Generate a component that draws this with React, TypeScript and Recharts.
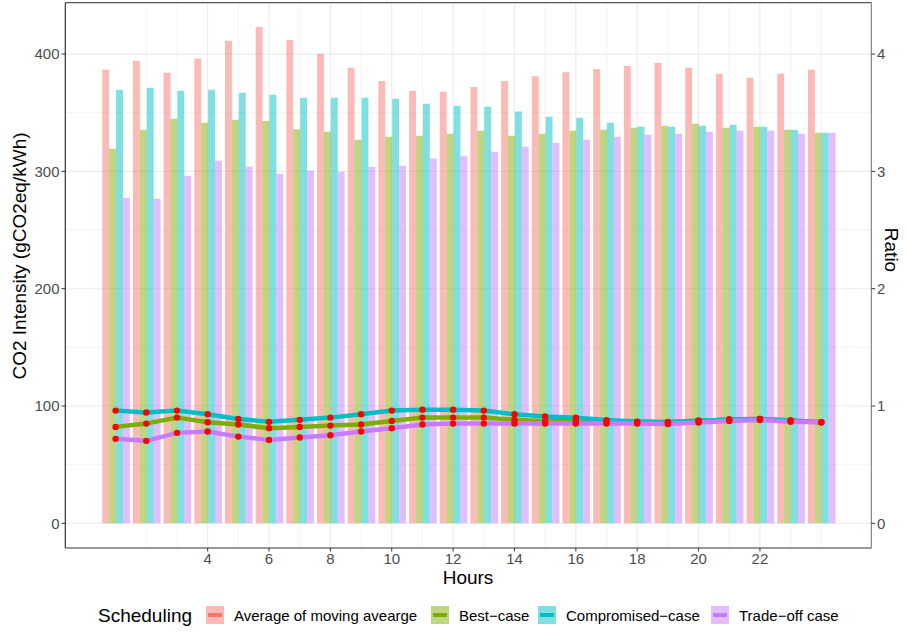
import React from 'react';
import {
  ComposedChart,
  Bar,
  Line,
  XAxis,
  YAxis,
  CartesianGrid,
  ReferenceLine,
} from 'recharts';

// hours of the day
const hours = [1, 2, 3, 4, 5, 6, 7, 8, 9, 10, 11, 12, 13, 14, 15, 16, 17, 18, 19, 20, 21, 22, 23, 24];

// CO2 intensity per scheduling (gCO2eq/kWh)
const avgMoving = [386.6, 394.3, 384, 396, 411.3, 423, 412, 400.3, 388.3, 377, 368.6, 367.8, 372, 377, 381, 384.6, 387.2, 389.8, 392.3, 388.3, 383.2, 379.8, 383.2, 386.6];
const bestCase = [319.3, 335.5, 344.8, 341.4, 344, 343, 336, 333.7, 326.9, 329.5, 330.4, 332, 334.6, 330.4, 332, 334.6, 335.5, 337.2, 338.9, 340.6, 337.2, 338, 335.5, 333];
const compromised = [369.6, 371.3, 368.8, 369.6, 367, 365.3, 362.8, 362.8, 362.8, 362, 357.7, 356, 355.3, 351, 346.5, 345.7, 341.4, 338, 338, 338.9, 339.8, 338, 335.5, 333];
const tradeOff = [277.6, 276.7, 296.3, 309, 304, 298, 300.5, 299.7, 304, 304.9, 310.9, 313.4, 316.8, 321, 324.4, 327, 329.5, 331.3, 332, 333.7, 334.6, 334.6, 332, 333];

// ratio to the moving average
const bestRatio = [0.822, 0.85, 0.901, 0.862, 0.842, 0.811, 0.822, 0.833, 0.842, 0.873, 0.901, 0.901, 0.901, 0.882, 0.871, 0.87, 0.866, 0.865, 0.864, 0.877, 0.88, 0.89, 0.876, 0.861];
const compRatio = [0.961, 0.944, 0.961, 0.93, 0.89, 0.865, 0.882, 0.901, 0.93, 0.961, 0.969, 0.969, 0.961, 0.93, 0.91, 0.9, 0.88, 0.867, 0.862, 0.873, 0.887, 0.89, 0.876, 0.861];
const tradeRatio = [0.72, 0.703, 0.771, 0.782, 0.739, 0.711, 0.731, 0.751, 0.782, 0.811, 0.842, 0.85, 0.85, 0.851, 0.851, 0.85, 0.851, 0.85, 0.846, 0.859, 0.873, 0.881, 0.866, 0.861];

const seriesNames = ['Average of moving avearge', 'Best\u2212case', 'Compromised\u2212case', 'Trade\u2212off case'];
const xTicks = [4, 6, 8, 10, 12, 14, 16, 18, 20, 22];
const xMinorGrid = [2, 3, 5, 7, 9, 11, 13, 15, 17, 19, 21, 23, 24];
const yTicks = [0, 100, 200, 300, 400];
const yMinorGrid = [50, 150, 250, 350];
const ratioTicks = [0, 1, 2, 3, 4];

const COLORS = ['#F8766D', '#7CAE00', '#00BFC4', '#C77CFF'];
const FONT = '"Liberation Sans", Arial, Helvetica, sans-serif';

const data = hours.map((hour, i) => ({
  hour,
  avg: avgMoving[i],
  best: bestCase[i],
  comp: compromised[i],
  trade: tradeOff[i],
  bestRatio: bestRatio[i],
  compRatio: compRatio[i],
  tradeRatio: tradeRatio[i],
}));

const Y_MAX = 443.8;
const Y_MIN = -21.05;
const tickStyle = { fontSize: 15, fill: '#4D4D4D', fontFamily: FONT };
const redDot = { r: 3.2, fill: '#FF0000', stroke: 'none', strokeWidth: 0 };

// legend layout (px)
const legendKeyX = [206, 431, 538, 711];

export default function App() {
  return (
    <div style={{ position: 'absolute', left: 0, top: 0, width: 907, height: 635, background: '#fff', fontFamily: FONT }}>
      <ComposedChart
        width={907}
        height={635}
        data={data}
        barGap={0}
        margin={{ top: 2.7, right: 10.7, bottom: 57, left: 20.3 }}
      >
        <CartesianGrid
          stroke="#EBEBEB"
          strokeWidth={0.6}
          horizontalValues={yMinorGrid}
          verticalValues={xMinorGrid}
        />
        <CartesianGrid
          stroke="#EBEBEB"
          strokeWidth={1.1}
          horizontalValues={yTicks}
          verticalValues={xTicks}
        />
        <XAxis
          dataKey="hour"
          type="number"
          domain={[-0.64, 25.63]}
          allowDataOverflow
          ticks={xTicks}
          interval={0}
          height={30}
          tick={tickStyle}
          tickSize={3.5}
          tickMargin={1.5}
          axisLine={{ stroke: '#333333', strokeWidth: 1.2 }}
          tickLine={{ stroke: '#333333' }}
        />
        <YAxis
          type="number"
          domain={[Y_MIN, Y_MAX]}
          allowDataOverflow
          ticks={yTicks}
          interval={0}
          width={45}
          tick={tickStyle}
          tickSize={3.8}
          tickMargin={2}
          axisLine={{ stroke: '#333333', strokeWidth: 1.2 }}
          tickLine={{ stroke: '#333333' }}
        />
        <YAxis
          yAxisId="right"
          orientation="right"
          type="number"
          domain={[Y_MIN / 100, Y_MAX / 100]}
          allowDataOverflow
          ticks={ratioTicks}
          interval={0}
          width={25}
          tick={tickStyle}
          tickSize={3.8}
          tickMargin={2}
          axisLine={{ stroke: '#6E6E6E', strokeWidth: 1 }}
          tickLine={{ stroke: '#333333' }}
        />
        <ReferenceLine y={Y_MAX} stroke="#555555" strokeWidth={1.2} />

        <Bar dataKey="avg" fill={COLORS[0]} fillOpacity={0.5} barSize={6.9} isAnimationActive={false} />
        <Bar dataKey="best" fill={COLORS[1]} fillOpacity={0.5} barSize={6.9} isAnimationActive={false} />
        <Bar dataKey="comp" fill={COLORS[2]} fillOpacity={0.5} barSize={6.9} isAnimationActive={false} />
        <Bar dataKey="trade" fill={COLORS[3]} fillOpacity={0.5} barSize={6.9} isAnimationActive={false} />

        <Line yAxisId="right" dataKey="bestRatio" stroke={COLORS[1]} strokeWidth={4.5} dot={false} activeDot={false} isAnimationActive={false} />
        <Line yAxisId="right" dataKey="compRatio" stroke={COLORS[2]} strokeWidth={4.5} dot={false} activeDot={false} isAnimationActive={false} />
        <Line yAxisId="right" dataKey="tradeRatio" stroke={COLORS[3]} strokeWidth={4.5} dot={false} activeDot={false} isAnimationActive={false} />

        <Line yAxisId="right" dataKey="bestRatio" stroke="none" dot={redDot} activeDot={false} isAnimationActive={false} />
        <Line yAxisId="right" dataKey="compRatio" stroke="none" dot={redDot} activeDot={false} isAnimationActive={false} />
        <Line yAxisId="right" dataKey="tradeRatio" stroke="none" dot={redDot} activeDot={false} isAnimationActive={false} />
      </ComposedChart>

      <svg width={907} height={635} style={{ position: 'absolute', left: 0, top: 0, pointerEvents: 'none' }}>
        <text
          transform="translate(25.5,256) rotate(-90)"
          textAnchor="middle"
          fontSize={19}
          fill="#000"
          fontFamily={FONT}
        >
          CO2 Intensity (gCO2eq/kWh)
        </text>
        <text
          transform="translate(885,250) rotate(90)"
          textAnchor="middle"
          fontSize={19}
          fill="#000"
          fontFamily={FONT}
        >
          Ratio
        </text>
        <text x={468} y={584} textAnchor="middle" fontSize={19} fill="#000" fontFamily={FONT}>
          Hours
        </text>

        <text x={98} y={622} fontSize={19} fill="#000" fontFamily={FONT}>
          Scheduling
        </text>
        {seriesNames.map((name, i) => (
          <g key={name}>
            <rect x={legendKeyX[i]} y={606} width={18} height={18} fill={COLORS[i]} fillOpacity={0.5} />
            <rect x={legendKeyX[i] + 2} y={613} width={14} height={4} fill={COLORS[i]} />
            <text x={legendKeyX[i] + 28} y={621} fontSize={15} fill="#000" fontFamily={FONT}>
              {name}
            </text>
          </g>
        ))}
      </svg>
    </div>
  );
}
